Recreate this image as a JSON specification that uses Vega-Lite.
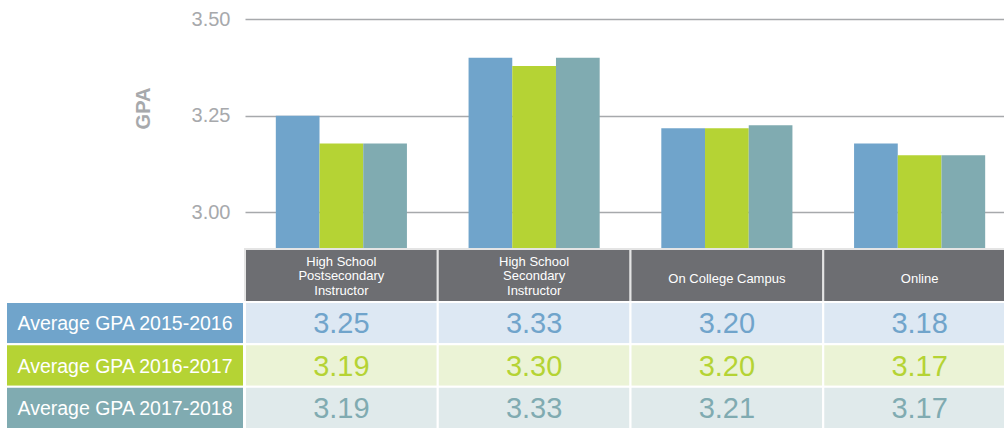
{
  "$schema": "https://vega.github.io/schema/vega-lite/v6.json",
  "width": 759,
  "height": 428,
  "autosize": {"type": "none"},
  "padding": {"left": 245, "top": 0, "right": 0, "bottom": 0},
  "background": "white",
  "config": {
    "view": {"stroke": null},
    "font": "Liberation Sans",
    "text": {"font": "Liberation Sans"}
  },
  "datasets": {
    "bars": [
      {"cat": "High School\nPostsecondary\nInstructor", "series": "Average GPA 2015-2016", "gpa": 3.25},
      {"cat": "High School\nPostsecondary\nInstructor", "series": "Average GPA 2016-2017", "gpa": 3.178},
      {"cat": "High School\nPostsecondary\nInstructor", "series": "Average GPA 2017-2018", "gpa": 3.178},
      {"cat": "High School\nSecondary\nInstructor", "series": "Average GPA 2015-2016", "gpa": 3.40},
      {"cat": "High School\nSecondary\nInstructor", "series": "Average GPA 2016-2017", "gpa": 3.379},
      {"cat": "High School\nSecondary\nInstructor", "series": "Average GPA 2017-2018", "gpa": 3.40},
      {"cat": "On College Campus", "series": "Average GPA 2015-2016", "gpa": 3.217},
      {"cat": "On College Campus", "series": "Average GPA 2016-2017", "gpa": 3.217},
      {"cat": "On College Campus", "series": "Average GPA 2017-2018", "gpa": 3.225},
      {"cat": "Online", "series": "Average GPA 2015-2016", "gpa": 3.178},
      {"cat": "Online", "series": "Average GPA 2016-2017", "gpa": 3.147},
      {"cat": "Online", "series": "Average GPA 2017-2018", "gpa": 3.147}
    ],
    "table": [
      {"cat": "High School\nPostsecondary\nInstructor", "series": "Average GPA 2015-2016", "val": "3.25"},
      {"cat": "High School\nPostsecondary\nInstructor", "series": "Average GPA 2016-2017", "val": "3.19"},
      {"cat": "High School\nPostsecondary\nInstructor", "series": "Average GPA 2017-2018", "val": "3.19"},
      {"cat": "High School\nSecondary\nInstructor", "series": "Average GPA 2015-2016", "val": "3.33"},
      {"cat": "High School\nSecondary\nInstructor", "series": "Average GPA 2016-2017", "val": "3.30"},
      {"cat": "High School\nSecondary\nInstructor", "series": "Average GPA 2017-2018", "val": "3.33"},
      {"cat": "On College Campus", "series": "Average GPA 2015-2016", "val": "3.20"},
      {"cat": "On College Campus", "series": "Average GPA 2016-2017", "val": "3.20"},
      {"cat": "On College Campus", "series": "Average GPA 2017-2018", "val": "3.21"},
      {"cat": "Online", "series": "Average GPA 2015-2016", "val": "3.18"},
      {"cat": "Online", "series": "Average GPA 2016-2017", "val": "3.17"},
      {"cat": "Online", "series": "Average GPA 2017-2018", "val": "3.17"}
    ],
    "cats": [
      {"cat": "High School\nPostsecondary\nInstructor"},
      {"cat": "High School\nSecondary\nInstructor"},
      {"cat": "On College Campus"},
      {"cat": "Online"}
    ],
    "rows": [
      {"series": "Average GPA 2015-2016"},
      {"series": "Average GPA 2016-2017"},
      {"series": "Average GPA 2017-2018"}
    ]
  },
  "resolve": {"scale": {"x": "independent", "y": "independent", "color": "independent", "xOffset": "independent"}},
  "layer": [
    {
      "data": {"name": "bars"},
      "mark": {"type": "bar"},
      "encoding": {
        "x": {"field": "cat", "type": "nominal", "sort": null,
              "scale": {"domain": ["High School\nPostsecondary\nInstructor", "High School\nSecondary\nInstructor", "On College Campus", "Online"], "range": [0, 771], "paddingInner": 0, "paddingOuter": 0},
              "axis": null},
        "xOffset": {"field": "series", "type": "nominal",
                    "scale": {"paddingInner": 0, "paddingOuter": 0.705}},
        "y": {"field": "gpa", "type": "quantitative",
              "scale": {"domain": [2.9066, 3.5501], "range": [248, 0], "nice": false, "zero": false},
              "axis": {"values": [3, 3.25, 3.5], "format": ".2f", "title": "GPA",
                       "grid": true, "gridColor": "#a7a9ac", "gridWidth": 1.3,
                       "domain": false, "ticks": false, "labelPadding": 15,
                       "labelFontSize": 20, "labelColor": "#a7a9ac", "labelFont": "Liberation Sans",
                       "titleFontSize": 20, "titleFontWeight": "bold", "titleColor": "#a7a9ac", "titleFont": "Liberation Sans",
                       "titleAngle": 270, "titleX": -102, "titleY": 108, "titleAlign": "center", "titleBaseline": "middle"}},
        "color": {"field": "series", "type": "nominal",
                  "scale": {"domain": ["Average GPA 2015-2016", "Average GPA 2016-2017", "Average GPA 2017-2018"], "range": ["#70a4cb", "#b5d334", "#80abb1"]},
                  "legend": null}
      }
    },
    {
      "data": {"name": "cats"},
      "mark": {"type": "rect", "fill": "#6d6e72", "stroke": "#e4e4e4", "strokeWidth": 2},
      "encoding": {
        "x": {"field": "cat", "type": "nominal", "sort": null,
              "scale": {"domain": ["High School\nPostsecondary\nInstructor", "High School\nSecondary\nInstructor", "On College Campus", "Online"], "range": [0, 771], "paddingInner": 0, "paddingOuter": 0},
              "axis": null},
        "y": {"datum": "header", "type": "nominal", "scale": {"range": [249, 302], "paddingInner": 0, "paddingOuter": 0}, "axis": null}
      }
    },
    {
      "data": {"name": "cats"},
      "transform": [{"filter": {"field": "cat", "oneOf": ["High School\nPostsecondary\nInstructor", "High School\nSecondary\nInstructor"]}}],
      "mark": {"type": "text", "color": "white", "fontSize": 13, "lineBreak": "\n", "lineHeight": 14.7, "align": "center", "baseline": "middle", "dy": -14},
      "encoding": {
        "x": {"field": "cat", "type": "nominal", "sort": null,
              "scale": {"domain": ["High School\nPostsecondary\nInstructor", "High School\nSecondary\nInstructor", "On College Campus", "Online"], "range": [0, 771], "paddingInner": 0, "paddingOuter": 0},
              "axis": null},
        "y": {"datum": "header", "type": "nominal", "scale": {"range": [249, 302], "paddingInner": 0, "paddingOuter": 0}, "axis": null},
        "text": {"field": "cat", "type": "nominal"}
      }
    },
    {
      "data": {"name": "cats"},
      "transform": [{"filter": {"field": "cat", "oneOf": ["On College Campus", "Online"]}}],
      "mark": {"type": "text", "color": "white", "fontSize": 13, "align": "center", "baseline": "middle", "dy": 3},
      "encoding": {
        "x": {"field": "cat", "type": "nominal", "sort": null,
              "scale": {"domain": ["High School\nPostsecondary\nInstructor", "High School\nSecondary\nInstructor", "On College Campus", "Online"], "range": [0, 771], "paddingInner": 0, "paddingOuter": 0},
              "axis": null},
        "y": {"datum": "header", "type": "nominal", "scale": {"range": [249, 302], "paddingInner": 0, "paddingOuter": 0}, "axis": null},
        "text": {"field": "cat", "type": "nominal"}
      }
    },
    {
      "data": {"name": "table"},
      "mark": {"type": "rect", "stroke": "white", "strokeWidth": 2},
      "encoding": {
        "x": {"field": "cat", "type": "nominal", "sort": null,
              "scale": {"domain": ["High School\nPostsecondary\nInstructor", "High School\nSecondary\nInstructor", "On College Campus", "Online"], "range": [0, 771], "paddingInner": 0, "paddingOuter": 0},
              "axis": null},
        "y": {"field": "series", "type": "nominal", "sort": null,
              "scale": {"domain": ["Average GPA 2015-2016", "Average GPA 2016-2017", "Average GPA 2017-2018"], "range": [302, 429], "paddingInner": 0, "paddingOuter": 0},
              "axis": null},
        "color": {"field": "series", "type": "nominal",
                  "scale": {"domain": ["Average GPA 2015-2016", "Average GPA 2016-2017", "Average GPA 2017-2018"], "range": ["#dde8f3", "#ebf3d6", "#e0eaeb"]},
                  "legend": null}
      }
    },
    {
      "data": {"name": "table"},
      "mark": {"type": "text", "fontSize": 29, "align": "center", "baseline": "middle", "dy": 1},
      "encoding": {
        "x": {"field": "cat", "type": "nominal", "sort": null,
              "scale": {"domain": ["High School\nPostsecondary\nInstructor", "High School\nSecondary\nInstructor", "On College Campus", "Online"], "range": [0, 771], "paddingInner": 0, "paddingOuter": 0},
              "axis": null},
        "y": {"field": "series", "type": "nominal", "sort": null,
              "scale": {"domain": ["Average GPA 2015-2016", "Average GPA 2016-2017", "Average GPA 2017-2018"], "range": [302, 429], "paddingInner": 0, "paddingOuter": 0},
              "axis": null},
        "text": {"field": "val", "type": "nominal"},
        "color": {"field": "series", "type": "nominal",
                  "scale": {"domain": ["Average GPA 2015-2016", "Average GPA 2016-2017", "Average GPA 2017-2018"], "range": ["#70a4cb", "#b5d334", "#80abb1"]},
                  "legend": null}
      }
    },
    {
      "data": {"name": "rows"},
      "mark": {"type": "rect", "stroke": "white", "strokeWidth": 2},
      "encoding": {
        "x": {"datum": "label", "type": "nominal", "scale": {"range": [-239, -1], "paddingInner": 0, "paddingOuter": 0}, "axis": null},
        "y": {"field": "series", "type": "nominal", "sort": null,
              "scale": {"domain": ["Average GPA 2015-2016", "Average GPA 2016-2017", "Average GPA 2017-2018"], "range": [302, 429], "paddingInner": 0, "paddingOuter": 0},
              "axis": null},
        "color": {"field": "series", "type": "nominal",
                  "scale": {"domain": ["Average GPA 2015-2016", "Average GPA 2016-2017", "Average GPA 2017-2018"], "range": ["#70a4cb", "#b5d334", "#80abb1"]},
                  "legend": null}
      }
    },
    {
      "data": {"name": "rows"},
      "mark": {"type": "text", "color": "white", "fontSize": 19.5, "align": "center", "baseline": "middle", "dy": 1},
      "encoding": {
        "x": {"datum": "label", "type": "nominal", "scale": {"range": [-239, -1], "paddingInner": 0, "paddingOuter": 0}, "axis": null},
        "y": {"field": "series", "type": "nominal", "sort": null,
              "scale": {"domain": ["Average GPA 2015-2016", "Average GPA 2016-2017", "Average GPA 2017-2018"], "range": [302, 429], "paddingInner": 0, "paddingOuter": 0},
              "axis": null},
        "text": {"field": "series", "type": "nominal"}
      }
    }
  ]
}
